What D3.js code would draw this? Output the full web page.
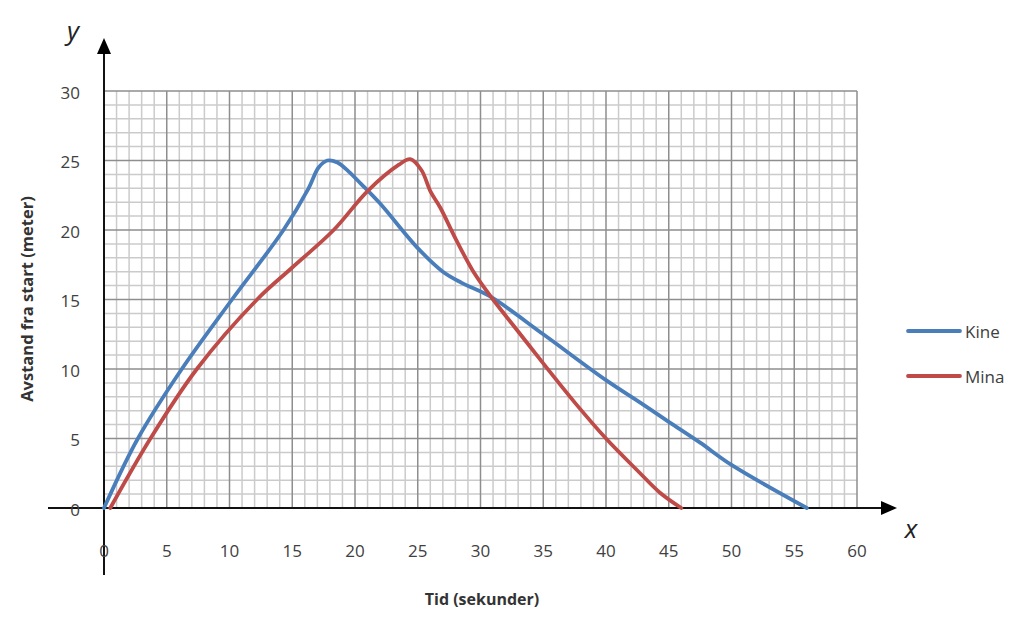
<!DOCTYPE html>
<html><head><meta charset="utf-8">
<script src="https://cdn.jsdelivr.net/npm/d3@7/dist/d3.min.js"></script>
<style>body{margin:0;background:#fff}svg{display:block}</style>
</head><body>
<svg id="chart" width="1030" height="625"></svg>
<script>
// ---- data ----
const kineTime = [0, 2.7, 6.2, 10.2, 14.3, 16.3, 17.1, 17.8, 18.6, 19.5, 20.5, 22, 25, 27, 28.5, 30.8, 35, 40, 42.7, 45, 47.5, 50, 56];
const kineDist = [0, 5, 10, 15, 20, 23.0, 24.5, 25, 24.85, 24.2, 23.3, 21.9, 18.7, 17.0, 16.2, 15.2, 12.5, 9.2, 7.6, 6.2, 4.7, 3.1, 0];
const minaTime = [0.5, 3.7, 7.4, 12.2, 15, 18.3, 21, 23.5, 24.4, 25.3, 26, 26.8, 28, 29.5, 31, 33, 35, 37.5, 40, 42.5, 44.3, 46];
const minaDist = [0, 5, 10, 15, 17.3, 20, 22.8, 24.7, 25.1, 24.3, 22.8, 21.6, 19.4, 16.9, 15.0, 12.7, 10.4, 7.6, 5.0, 2.7, 1.1, 0];
const xTicks = [0, 5, 10, 15, 20, 25, 30, 35, 40, 45, 50, 55, 60];
const yTicks = [0, 5, 10, 15, 20, 25, 30];
const seriesNames = ["Kine", "Mina"];
const seriesColors = ["#4a7ebb", "#be4b48"];

const svg = d3.select("#chart");
const x = d3.scaleLinear().domain([0, 60]).range([104, 857]);
const y = d3.scaleLinear().domain([0, 30]).range([508, 91]);

// grid
const grid = svg.append("g");
const minor = d3.range(0, 61);
const minorY = d3.range(0, 31);
grid.selectAll(".vx").data(minor.filter(d => d % 5 !== 0)).join("line")
  .attr("x1", d => x(d)).attr("x2", d => x(d)).attr("y1", y(0)).attr("y2", y(30))
  .attr("stroke", "#cbcbcb").attr("stroke-width", 1.5);
grid.selectAll(".hy").data(minorY.filter(d => d % 5 !== 0)).join("line")
  .attr("y1", d => y(d)).attr("y2", d => y(d)).attr("x1", x(0)).attr("x2", x(60))
  .attr("stroke", "#cbcbcb").attr("stroke-width", 1.5);
grid.selectAll(".vM").data(xTicks).join("line")
  .attr("x1", d => x(d)).attr("x2", d => x(d)).attr("y1", y(0)).attr("y2", y(30))
  .attr("stroke", "#8e8e8e").attr("stroke-width", 1.5);
grid.selectAll(".hM").data(yTicks).join("line")
  .attr("y1", d => y(d)).attr("y2", d => y(d)).attr("x1", x(0)).attr("x2", x(60))
  .attr("stroke", "#8e8e8e").attr("stroke-width", 1.5);

// axes lines with arrows
const ax = svg.append("g");
ax.append("line").attr("x1", x(0)).attr("x2", x(0)).attr("y1", 575).attr("y2", 50)
  .attr("stroke", "#111").attr("stroke-width", 2);
ax.append("path").attr("d", `M${x(0)},38 L${x(0)-7},54 L${x(0)+7},54 Z`).attr("fill", "#000");
ax.append("line").attr("x1", 48).attr("x2", 886).attr("y1", y(0)).attr("y2", y(0))
  .attr("stroke", "#111").attr("stroke-width", 2);
ax.append("path").attr("d", `M897,${y(0)} L881,${y(0)-7} L881,${y(0)+7} Z`).attr("fill", "#000");

// tick labels
const font = "'Open Sans', 'Liberation Sans', sans-serif";
svg.append("g").selectAll("text").data(xTicks).join("text")
  .attr("x", d => x(d)).attr("y", 550).attr("text-anchor", "middle").attr("dominant-baseline", "central")
  .attr("font-family", font).attr("font-size", 17).attr("fill", "#404040").text(d => d);
svg.append("g").selectAll("text").data(yTicks).join("text")
  .attr("x", 80).attr("y", d => y(d) + 1).attr("text-anchor", "end").attr("dominant-baseline", "central")
  .attr("font-family", font).attr("font-size", 17).attr("fill", "#404040").text(d => d);

// axis titles
svg.append("text").attr("x", 482).attr("y", 599).attr("text-anchor", "middle").attr("dominant-baseline", "central")
  .attr("font-family", font).attr("font-weight", "bold").attr("font-size", 16).attr("fill", "#333")
  .text("Tid (sekunder)");
svg.append("text").attr("transform", "translate(26,299) rotate(-90)").attr("text-anchor", "middle")
  .attr("dominant-baseline", "central")
  .attr("font-family", font).attr("font-weight", "bold").attr("font-size", 16.5).attr("fill", "#333")
  .text("Avstand fra start (meter)");
svg.append("text").attr("x", 73).attr("y", 30).attr("text-anchor", "middle").attr("dominant-baseline", "central")
  .attr("font-family", font).attr("font-style", "italic").attr("font-size", 26).attr("fill", "#222").text("y");
svg.append("text").attr("x", 911).attr("y", 528).attr("text-anchor", "middle").attr("dominant-baseline", "central")
  .attr("font-family", font).attr("font-style", "italic").attr("font-size", 26).attr("fill", "#222").text("x");

// lines
const line = d3.line().x(d => x(d[0])).y(d => y(d[1])).curve(d3.curveCatmullRom.alpha(0.5));
const series = [kineTime.map((t, i) => [t, kineDist[i]]), minaTime.map((t, i) => [t, minaDist[i]])];
svg.append("g").selectAll("path").data(series).join("path")
  .attr("d", line).attr("fill", "none").attr("stroke", (d, i) => seriesColors[i])
  .attr("stroke-width", 3.8).attr("stroke-linejoin", "round").attr("stroke-linecap", "round");

// legend
const lg = svg.append("g").selectAll("g").data(seriesNames).join("g")
  .attr("transform", (d, i) => `translate(908,${331 + i * 45})`);
lg.append("line").attr("x1", 0).attr("x2", 52).attr("stroke", (d, i) => seriesColors[i]).attr("stroke-width", 3.8)
  .attr("stroke-linecap", "round");
lg.append("text").attr("x", 57).attr("dominant-baseline", "central").attr("font-family", font)
  .attr("font-size", 17).attr("fill", "#404040").text(d => d);
</script>
</body></html>
